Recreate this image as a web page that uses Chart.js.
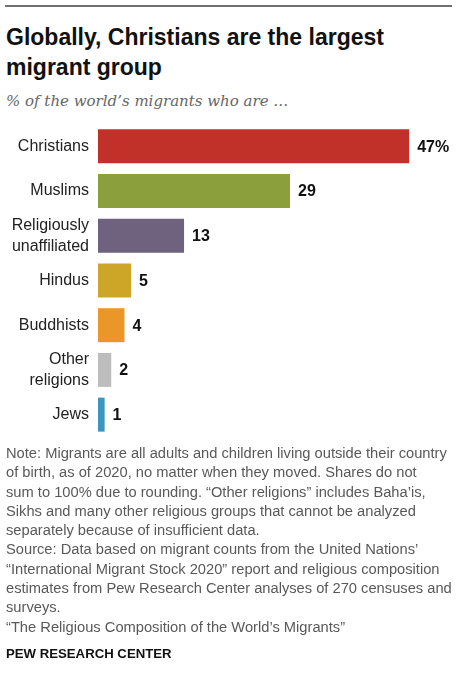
<!DOCTYPE html>
<html>
<head>
<meta charset="utf-8">
<script src="https://cdn.jsdelivr.net/npm/chart.js@4"></script>
<style>
  html, body { margin: 0; padding: 0; background: #fff; }
  body { width: 464px; height: 680px; position: relative; overflow: hidden; font-family: "Liberation Sans", Arial, sans-serif; }
  .rule { position: absolute; left: 5px; top: 5px; width: 447px; height: 0; border-top: 2px solid #707070; }
  h1 { position: absolute; left: 6px; top: 22px; margin: 0; font-size: 23px; line-height: 30px; font-weight: bold; color: #111; }
  .sub { position: absolute; left: 6px; top: 92px; margin: 0; font-family: "DejaVu Serif", Georgia, serif; font-style: italic; font-size: 15px; color: #666; }
  .wrap { position: absolute; left: 0; top: 115px; width: 464px; height: 330px; }
  .notes { position: absolute; left: 6px; top: 444px; font-size: 14.7px; line-height: 19.3px; color: #595959; white-space: nowrap; }
  .brand { position: absolute; left: 6px; top: 646px; font-size: 13.2px; font-weight: bold; color: #111; }
</style>
</head>
<body>
<div class="rule"></div>
<h1>Globally, Christians are the largest<br>migrant group</h1>
<p class="sub">% of the world’s migrants who are …</p>
<div class="wrap"><canvas id="chart"></canvas></div>
<div class="notes">
Note: Migrants are all adults and children living outside their country<br>
of birth, as of 2020, no matter when they moved. Shares do not<br>
sum to 100% due to rounding. “Other religions” includes Baha’is,<br>
Sikhs and many other religious groups that cannot be analyzed<br>
separately because of insufficient data.<br>
Source: Data based on migrant counts from the United Nations’<br>
“International Migrant Stock 2020” report and religious composition<br>
estimates from Pew Research Center analyses of 270 censuses and<br>
surveys.<br>
“The Religious Composition of the World’s Migrants”
</div>
<div class="brand">PEW RESEARCH CENTER</div>

<script>
const categories = ['Christians', 'Muslims', ['Religiously', 'unaffiliated'], 'Hindus', 'Buddhists', ['Other', 'religions'], 'Jews'];
const shares = [47, 29, 13, 5, 4, 2, 1];
const barColors = ['#c1312a', '#8ba03c', '#6e627f', '#cda628', '#ea972a', '#bdbdbd', '#3b95c1'];

// value labels at the end of each bar
const valueLabels = {
    id: 'valueLabels',
    afterDatasetsDraw(chart) {
        const ctx = chart.ctx;
        const meta = chart.getDatasetMeta(0);
        ctx.save();
        ctx.font = 'bold 16px "Liberation Sans", Arial, sans-serif';
        ctx.fillStyle = '#111';
        ctx.textAlign = 'left';
        ctx.textBaseline = 'middle';
        meta.data.forEach((bar, i) => {
            const txt = i === 0 ? shares[i] + '%' : String(shares[i]);
            ctx.fillText(txt, bar.x + 8, bar.y + 1);
        });
        ctx.restore();
    }
};

new Chart(document.getElementById('chart'), {
    type: 'bar',
    data: {
        labels: categories,
        datasets: [{
            data: shares,
            backgroundColor: barColors,
            borderWidth: 0,
            barPercentage: 0.76,
            categoryPercentage: 1
        }]
    },
    options: {
        indexAxis: 'y',
        responsive: true,
        maintainAspectRatio: false,
        animation: false,
        layout: { padding: { top: 9, bottom: 8, right: 35, left: 0 } },
        plugins: {
            legend: { display: false },
            tooltip: { enabled: false }
        },
        scales: {
            x: { display: false, min: 0, max: 50 },
            y: {
                grid: { display: false, drawTicks: false },
                border: { display: false },
                afterFit(axis) {
                    axis.width = 98;
                    axis.paddingTop = 0;
                    axis.paddingBottom = 0;
                },
                ticks: {
                    padding: 9,
                    color: '#222',
                    font: { family: '"Liberation Sans", Arial, sans-serif', size: 16, lineHeight: 1.3 }
                }
            }
        }
    },
    plugins: [valueLabels]
});
</script>
</body>
</html>
